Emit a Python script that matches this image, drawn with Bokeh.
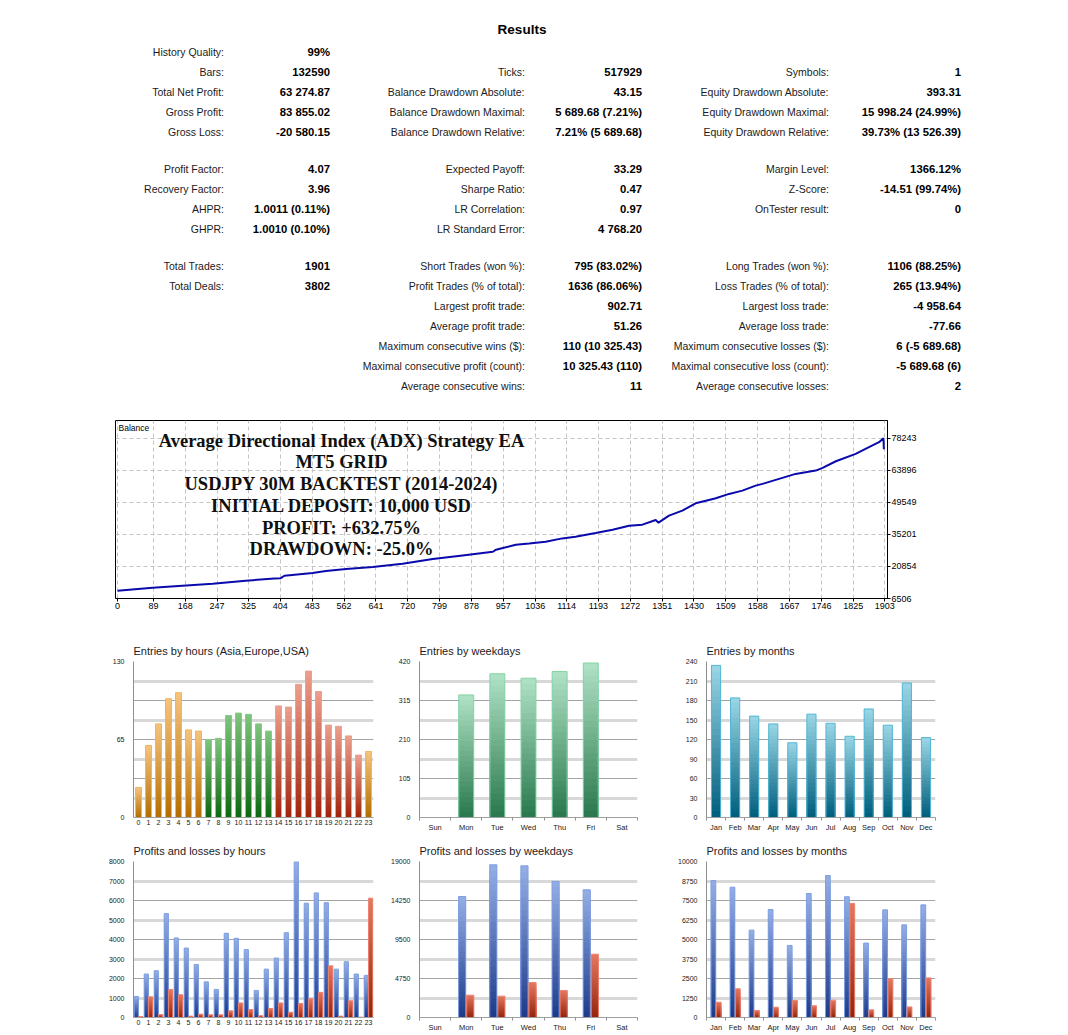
from bokeh.plotting import figure
from bokeh.layouts import column, row
from bokeh.models import FixedTicker, Grid, Label, Spacer, Range1d
from bokeh.embed import file_html
from bokeh.resources import INLINE
from bokeh.core.properties import value

FONT = "Liberation Sans"

# ---------------- data: results table ----------------
results_title = "Results"
col1_labels = ["History Quality:", "Bars:", "Total Net Profit:", "Gross Profit:", "Gross Loss:",
               "Profit Factor:", "Recovery Factor:", "AHPR:", "GHPR:",
               "Total Trades:", "Total Deals:", "", "", "", "", ""]
col1_values = ["99%", "132590", "63 274.87", "83 855.02", "-20 580.15",
               "4.07", "3.96", "1.0011 (0.11%)", "1.0010 (0.10%)",
               "1901", "3802", "", "", "", "", ""]
col2_labels = ["", "Ticks:", "Balance Drawdown Absolute:", "Balance Drawdown Maximal:", "Balance Drawdown Relative:",
               "Expected Payoff:", "Sharpe Ratio:", "LR Correlation:", "LR Standard Error:",
               "Short Trades (won %):", "Profit Trades (% of total):", "Largest profit trade:",
               "Average profit trade:", "Maximum consecutive wins ($):",
               "Maximal consecutive profit (count):", "Average consecutive wins:"]
col2_values = ["", "517929", "43.15", "5 689.68 (7.21%)", "7.21% (5 689.68)",
               "33.29", "0.47", "0.97", "4 768.20",
               "795 (83.02%)", "1636 (86.06%)", "902.71", "51.26", "110 (10 325.43)",
               "10 325.43 (110)", "11"]
col3_labels = ["", "Symbols:", "Equity Drawdown Absolute:", "Equity Drawdown Maximal:", "Equity Drawdown Relative:",
               "Margin Level:", "Z-Score:", "OnTester result:", "",
               "Long Trades (won %):", "Loss Trades (% of total):", "Largest loss trade:",
               "Average loss trade:", "Maximum consecutive losses ($):",
               "Maximal consecutive loss (count):", "Average consecutive losses:"]
col3_values = ["", "1", "393.31", "15 998.24 (24.99%)", "39.73% (13 526.39)",
               "1366.12%", "-14.51 (99.74%)", "0", "",
               "1106 (88.25%)", "265 (13.94%)", "-4 958.64", "-77.66", "6 (-5 689.68)",
               "-5 689.68 (6)", "2"]

# ---------------- data: balance curve ----------------
bal_title_lines = ["Average Directional Index (ADX) Strategy EA", "MT5 GRID",
                   "USDJPY 30M BACKTEST (2014-2024)", "INITIAL DEPOSIT: 10,000 USD",
                   "PROFIT: +632.75%", "DRAWDOWN: -25.0%"]
bal_trade = [0, 87, 161, 236, 318, 389, 405, 414, 484, 517, 567, 633, 707, 782, 856, 931, 939, 951,
             988, 1021, 1062, 1103, 1136, 1186, 1228, 1269, 1302, 1335, 1342, 1368, 1401, 1434, 1467,
             1484, 1517, 1550, 1583, 1600, 1641, 1682, 1732, 1749, 1782, 1831, 1864, 1889, 1900, 1901]
bal_value = [10000, 11300, 12200, 13100, 14440, 15470, 15600, 16690, 17890, 18790, 19690, 20580,
             22070, 24170, 25790, 27440, 28340, 28920, 30580, 31170, 31930, 33410, 34170, 35830,
             37310, 39100, 39550, 41660, 40450, 43590, 45830, 49100, 50630, 51350, 53320, 54800,
             57040, 57800, 60040, 62280, 63760, 64980, 67940, 71250, 74220, 76460, 78243, 73285]
bal_xticks = [0, 89, 168, 247, 325, 404, 483, 562, 641, 720, 799, 878, 957, 1036, 1114, 1193,
              1272, 1351, 1430, 1509, 1588, 1667, 1746, 1825, 1903]
bal_yticks = [6506, 20854, 35201, 49549, 63896, 78243]

# ---------------- data: bar charts ----------------
hours = [str(h) for h in range(24)]
hour_session = ["Asia"] * 7 + ["Europe"] * 7 + ["USA"] * 9 + ["Asia"]
entries_hours = [25, 60, 78, 99, 104, 73, 72, 65, 66, 85, 87, 86, 78, 72,
                 93, 92, 111, 122, 105, 77, 76, 68, 52, 55]
weekdays = ["Sun", "Mon", "Tue", "Wed", "Thu", "Fri", "Sat"]
entries_weekdays = [0, 330, 387, 375, 393, 416, 0]
months = ["Jan", "Feb", "Mar", "Apr", "May", "Jun", "Jul", "Aug", "Sep", "Oct", "Nov", "Dec"]
entries_months = [234, 184, 156, 144, 115, 159, 145, 125, 167, 142, 207, 123]

profit_hours = [1080, 2230, 2400, 5330, 4080, 3560, 2720, 1830, 1440, 4320, 4060, 3480,
                1390, 2480, 3050, 4350, 7990, 5860, 6390, 5890, 2480, 2860, 2230, 2160]
loss_hours = [50, 1060, 150, 1440, 1170, 70, 170, 140, 140, 340, 750, 410,
              90, 460, 750, 270, 720, 960, 1290, 2650, 70, 860, 20, 6120]
profit_weekdays = [0, 14740, 18600, 18470, 16570, 15550, 0]
loss_weekdays = [0, 2720, 2600, 4260, 3290, 7710, 0]
profit_months = [8780, 8350, 5600, 6920, 4620, 7950, 9100, 7740, 4770, 6900, 5940, 7220]
loss_months = [980, 1840, 450, 660, 1090, 750, 1110, 7310, 490, 2480, 680, 2540]

# ---------------- styling helpers ----------------
SESSION_COLORS = {"Asia": ("#f6c27a", "#b56f02", "#f3b55c"),
                  "Europe": ("#7cc47c", "#0f6a10", "#86cc86"),
                  "USA": ("#ec9c8a", "#a2260c", "#eaa190")}
GREEN = ("#aee0c4", "#2b7a4f", "#86d4a6")
TEAL = ("#98d4e4", "#02607e", "#52b8d6")
BLUE = ("#92ade4", "#1f3c8c", "#7f9fe0")
RED = ("#e4765e", "#962510", "#ec8470")


def mix(c1, c2, t):
    a = [int(c1[i:i + 2], 16) for i in (1, 3, 5)]
    b = [int(c2[i:i + 2], 16) for i in (1, 3, 5)]
    return "#%02x%02x%02x" % tuple(round(a[k] + (b[k] - a[k]) * t) for k in range(3))


def grad_vbar(p, xs, tops, width, cols, n=24):
    tops_c = [c[0] for c in cols]
    bots_c = [c[1] for c in cols]
    outl = [c[2] for c in cols]
    for k in range(n):
        t = k / (n - 1)
        f = 1 - k / n
        p.vbar(x=xs, top=[v * f for v in tops], bottom=0, width=width,
               fill_color=[mix(a, b, t) for a, b in zip(tops_c, bots_c)], line_color=None)
    p.vbar(x=xs, top=tops, bottom=0, width=width, fill_color=None,
           line_color=outl, line_width=1, line_alpha=[1 if v > 0 else 0 for v in tops])


def bar_fig(title, cats, frame_w, frame_h, ymax, label_ticks, dark_ticks, light_ticks,
            bl, br, bt, bb, cat_ticks=True, xfont="7.5px"):
    n = len(cats)
    p = figure(frame_width=frame_w, frame_height=frame_h, x_range=Range1d(-0.5, n - 0.5),
               y_range=Range1d(0, ymax), output_backend="svg", toolbar_location=None,
               min_border_left=bl, min_border_right=br, min_border_top=bt, min_border_bottom=bb,
               title=title)
    p.outline_line_color = None
    p.title.text_font = FONT
    p.title.text_font_size = "11px"
    p.title.text_font_style = "normal"
    p.title.text_color = "#1e1a24"
    p.title.standoff = 9
    p.title.align = "left"
    p.xgrid.visible = False
    p.ygrid.ticker = FixedTicker(ticks=dark_ticks)
    p.ygrid.grid_line_color = "#a4a4a4"
    p.ygrid.grid_line_width = 1
    lg = Grid(dimension=1, ticker=FixedTicker(ticks=light_ticks),
              grid_line_color="#d8d8d8", grid_line_width=3)
    p.add_layout(lg)
    ya = p.yaxis[0]
    ya.ticker = FixedTicker(ticks=label_ticks)
    ya.major_tick_out = 0
    ya.major_tick_in = 0
    ya.minor_tick_out = 0
    ya.minor_tick_in = 0
    ya.axis_line_color = "#8e8e8e"
    ya.major_label_text_font = FONT
    ya.major_label_text_font_size = "7px"
    ya.major_label_text_color = "#202020"
    ya.major_label_standoff = 9
    xa = p.xaxis[0]
    xa.ticker = FixedTicker(ticks=list(range(n)),
                            minor_ticks=[i - 0.5 for i in range(n + 1)] if cat_ticks else [])
    xa.major_label_overrides = {i: c for i, c in enumerate(cats)}
    xa.major_tick_out = 0
    xa.major_tick_in = 0
    xa.minor_tick_out = 3 if cat_ticks else 0
    xa.minor_tick_in = 0
    xa.minor_tick_line_color = "#909090"
    xa.axis_line_color = "#a0a0a0"
    xa.major_label_text_font = FONT
    xa.major_label_text_font_size = xfont
    xa.major_label_text_color = "#202020"
    xa.major_label_standoff = 2
    return p


# ---------------- results table ----------------
ROW_Y = [51, 71, 91, 111, 131, 168, 188, 208, 228, 265, 285, 305, 325, 345, 365, 385]
LABEL_X = [223.5, 524.5, 828.5]
VALUE_X = [329.5, 641.5, 960.5]

stats = figure(width=1068, height=408, x_range=Range1d(0, 1068), y_range=Range1d(408, 0),
               output_backend="svg", toolbar_location=None, x_axis_location=None,
               y_axis_location=None, min_border=0)
stats.outline_line_color = None
stats.xgrid.visible = False
stats.ygrid.visible = False
stats.text(x=[521.5], y=[29], text=[results_title], text_align="center", text_baseline="middle",
           text_font=value(FONT), text_font_size="13.5px", text_font_style="bold", text_color="#000000")
for lx, vx, labs, vals in zip(LABEL_X, VALUE_X, [col1_labels, col2_labels, col3_labels],
                              [col1_values, col2_values, col3_values]):
    stats.text(x=[lx] * len(labs), y=ROW_Y, text=labs, text_align="right", text_baseline="middle",
               text_font=value(FONT), text_font_size="10.5px", text_color="#1c1a22")
    stats.text(x=[vx] * len(vals), y=ROW_Y, text=vals, text_align="right", text_baseline="middle",
               text_font=value(FONT), text_font_size="11.3px", text_font_style="bold",
               text_color="#000000")

# ---------------- balance chart ----------------
bal = figure(frame_width=772, frame_height=178, x_range=Range1d(-5, 1910),
             y_range=Range1d(6506, 86180), output_backend="svg", toolbar_location=None,
             x_axis_location="below", y_axis_location="right",
             min_border_left=115, min_border_right=181, min_border_top=12, min_border_bottom=30)
bal.outline_line_color = "#000000"
bal.outline_line_width = 1
for ax in (bal.xaxis[0], bal.yaxis[0]):
    ax.major_label_text_font = FONT
    ax.major_label_text_font_size = "9px"
    ax.major_label_text_color = "#000000"
    ax.major_tick_out = 3
    ax.major_tick_in = 0
    ax.minor_tick_out = 0
    ax.minor_tick_in = 0
    ax.axis_line_color = "#000000"
    ax.major_tick_line_color = "#000000"
    ax.major_label_standoff = 1
bal.xaxis[0].ticker = FixedTicker(ticks=bal_xticks)
bal.yaxis[0].ticker = FixedTicker(ticks=bal_yticks)
bal.yaxis[0].major_label_overrides = {v: str(v) for v in bal_yticks}
bal.xaxis[0].major_label_overrides = {v: str(v) for v in bal_xticks}
bal.xgrid.ticker = FixedTicker(ticks=bal_xticks)
bal.ygrid.ticker = FixedTicker(ticks=bal_yticks)
for g in (bal.xgrid[0], bal.ygrid[0]):
    g.grid_line_color = "#c4c4c4"
    g.grid_line_dash = "4 3"
    g.grid_line_width = 1
bal.line(x=bal_trade, y=bal_value, line_color="#0a0aac", line_width=2)
bal.add_layout(Label(x=-5, y=86180, x_offset=3, y_offset=-7, text="Balance", text_align="left",
                     text_baseline="middle", text_font=FONT, text_font_size="8.5px",
                     text_color="#000000"))
TITLE_OFFS = [20, 41, 63, 85, 107, 128]
for off, line in zip(TITLE_OFFS, bal_title_lines):
    bal.add_layout(Label(x=-5, y=86180, x_offset=226, y_offset=-off, text=line,
                         text_align="center", text_baseline="middle",
                         text_font="Liberation Serif", text_font_style="bold",
                         text_font_size="18.5px", text_color="#101010"))

# ---------------- bar charts: entries ----------------
hx = list(range(24))
f1 = bar_fig("Entries by hours (Asia,Europe,USA)", hours, 240, 156, 130, [0, 65, 130],
             [0, 32.5, 65, 97.5, 130], [16.25, 48.75, 81.25, 113.75], 40, 6, 33, 18,
             cat_ticks=False, xfont="7px")
grad_vbar(f1, hx, entries_hours, 0.6, [SESSION_COLORS[s] for s in hour_session])

wx = list(range(7))
f2 = bar_fig("Entries by weekdays", weekdays, 218, 156, 420, [0, 105, 210, 315, 420],
             [0, 105, 210, 315, 420], [52.5, 157.5, 262.5, 367.5], 40, 29, 33, 18)
grad_vbar(f2, wx, entries_weekdays, 0.48, [GREEN] * 7)

mx = list(range(12))
f3 = bar_fig("Entries by months", months, 229, 156, 240, list(range(0, 241, 30)),
             [0, 60, 120, 180, 240], [30, 90, 150, 210], 40, 15, 33, 18)
grad_vbar(f3, mx, entries_months, 0.48, [TEAL] * 12)

# ---------------- bar charts: profits and losses ----------------
g1 = bar_fig("Profits and losses by hours", hours, 240, 156, 8000, list(range(0, 8001, 1000)),
             [0, 2000, 4000, 6000, 8000], [1000, 3000, 5000, 7000], 40, 6, 26, 16,
             cat_ticks=False, xfont="7px")
grad_vbar(g1, [x - 0.22 for x in hx], profit_hours, 0.42, [BLUE] * 24)
grad_vbar(g1, [x + 0.22 for x in hx], loss_hours, 0.42, [RED] * 24)

g2 = bar_fig("Profits and losses by weekdays", weekdays, 218, 156, 19000,
             [0, 4750, 9500, 14250, 19000], [0, 4750, 9500, 14250, 19000],
             [2375, 7125, 11875, 16625], 40, 29, 26, 16)
grad_vbar(g2, [x - 0.13 for x in wx], profit_weekdays, 0.23, [BLUE] * 7)
grad_vbar(g2, [x + 0.13 for x in wx], loss_weekdays, 0.23, [RED] * 7)

g3 = bar_fig("Profits and losses by months", months, 229, 156, 10000, list(range(0, 10001, 1250)),
             [0, 2500, 5000, 7500, 10000], [1250, 3750, 6250, 8750], 40, 15, 26, 16)
grad_vbar(g3, [x - 0.14 for x in mx], profit_months, 0.25, [BLUE] * 12)
grad_vbar(g3, [x + 0.14 for x in mx], loss_months, 0.25, [RED] * 12)

rowS = row(stats)
rowBal = row(bal)
rowA = row(Spacer(width=93, height=10), f1, f2, f3)
rowB = row(Spacer(width=93, height=10), g1, g2, g3)
layout = column(rowS, rowBal, rowA, rowB)

open("out.html", "w").write(file_html(layout, INLINE))
